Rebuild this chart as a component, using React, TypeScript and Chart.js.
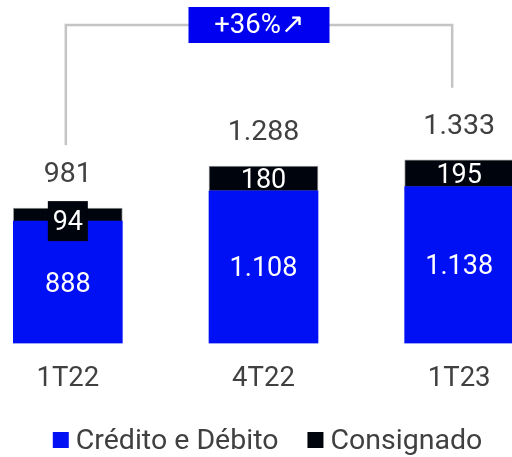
import React, { useEffect, useRef } from 'react';
import { Chart, registerables } from 'chart.js';

Chart.register(...registerables);

const categories = ['1T22', '4T22', '1T23'];
const creditoDebito = [888, 1108, 1138];
const consignado = [94, 180, 195];
const totals = [981, 1288, 1333];
const seriesNames = ['Crédito e Débito', 'Consignado'];
const growthLabel = '+36%↗';

const BLUE = '#0010F5';
const BLACK = '#00040D';
const TEXT = '#404040';
const FONT = 'Roboto, "Noto Sans", sans-serif';

function fmt(n: number): string {
  return String(n).replace(/\B(?=(\d{3})+(?!\d))/g, '.');
}

const overlay = {
  id: 'overlay',
  afterDatasetsDraw(chart: any) {
    const ctx = chart.ctx as CanvasRenderingContext2D;
    const m0 = chart.getDatasetMeta(0);
    const m1 = chart.getDatasetMeta(1);
    ctx.save();
    ctx.textAlign = 'center';
    ctx.textBaseline = 'middle';

    // segment labels
    ctx.font = `27px ${FONT}`;
    ctx.fillStyle = '#fff';
    m0.data.forEach((el: any, i: number) => {
      ctx.fillText(fmt(creditoDebito[i]), el.x, (el.y + el.base) / 2 + 2.5);
    });
    m1.data.forEach((el: any, i: number) => {
      const h = el.base - el.y;
      let cy = (el.y + el.base) / 2;
      if (h < 20) {
        ctx.fillStyle = BLACK;
        ctx.fillRect(el.x - 20, el.base - 20, 40, 40);
        cy = el.base;
      }
      ctx.fillStyle = '#fff';
      ctx.fillText(fmt(consignado[i]), el.x, cy + 2.5);
    });

    // totals
    ctx.font = `28.5px ${FONT}`;
    ctx.fillStyle = TEXT;
    m1.data.forEach((el: any, i: number) => {
      ctx.fillText(fmt(totals[i]), el.x, el.y - 33);
    });

    // bracket
    const a = m1.data[0];
    const b = m1.data[2];
    const lx = a.x - 2;
    const rx = b.x - 7;
    const by = 25;
    ctx.strokeStyle = '#c4c4c4';
    ctx.lineWidth = 2.5;
    ctx.beginPath();
    ctx.moveTo(lx, a.y - 63);
    ctx.lineTo(lx, by);
    ctx.lineTo(rx, by);
    ctx.lineTo(rx, b.y - 72);
    ctx.stroke();
    const cx = (lx + rx) / 2;
    ctx.fillStyle = '#0000F0';
    ctx.fillRect(cx - 70.5, by - 18, 141, 36);
    ctx.fillStyle = '#fff';
    ctx.font = `27.5px ${FONT}`;
    ctx.fillText(growthLabel, cx, by + 1.5);

    // legend
    const colors = [BLUE, BLACK];
    ctx.font = `28.5px ${FONT}`;
    ctx.textAlign = 'left';
    const box = 16;
    const gapText = 7;
    const gapItem = 29;
    const widths = seriesNames.map((s) => box + gapText + ctx.measureText(s).width);
    const total = widths.reduce((p, c) => p + c, 0) + gapItem * (seriesNames.length - 1);
    let x = (chart.chartArea.left + chart.chartArea.right) / 2 + 4 - total / 2;
    const ly = 440;
    seriesNames.forEach((s, i) => {
      ctx.fillStyle = colors[i];
      ctx.fillRect(x, ly - box / 2, box, box);
      ctx.fillStyle = TEXT;
      ctx.fillText(s, x + box + gapText, ly + 1.5);
      x += widths[i] + gapItem;
    });
    ctx.restore();
  },
};

export default function App() {
  const ref = useRef<HTMLCanvasElement | null>(null);
  useEffect(() => {
    if (!ref.current) return;
    const chart = new Chart(ref.current, {
      type: 'bar',
      data: {
        labels: categories,
        datasets: [
          {
            label: seriesNames[0],
            data: creditoDebito,
            backgroundColor: BLUE,
            borderWidth: 0,
            barThickness: 109,
          },
          {
            label: seriesNames[1],
            data: consignado,
            backgroundColor: BLACK,
            borderColor: '#9a9a9a',
            borderWidth: 1,
            barThickness: 109,
          },
        ],
      },
      options: {
        responsive: false,
        animation: false,
        devicePixelRatio: 1,
        layout: { padding: { top: 68, bottom: 42.6, left: 0, right: 0 } },
        plugins: {
          legend: { display: false },
          tooltip: { enabled: false },
        },
        scales: {
          x: {
            stacked: true,
            grid: { display: false, drawTicks: false },
            border: { display: false },
            ticks: {
              color: TEXT,
              font: { family: FONT, size: 27.5 },
              padding: 19,
            },
          },
          y: {
            stacked: true,
            display: false,
            min: 0,
            max: 2000,
          },
        },
      },
      plugins: [overlay],
    });
    return () => chart.destroy();
  }, []);

  return (
    <div style={{ position: 'fixed', left: 0, top: 0, width: 512, height: 457, overflow: 'hidden', background: '#fff' }}>
      <div style={{ position: 'absolute', left: -30, top: 0, width: 587, height: 457 }}>
        <canvas ref={ref} width={587} height={457} style={{ display: 'block' }} />
      </div>
    </div>
  );
}
